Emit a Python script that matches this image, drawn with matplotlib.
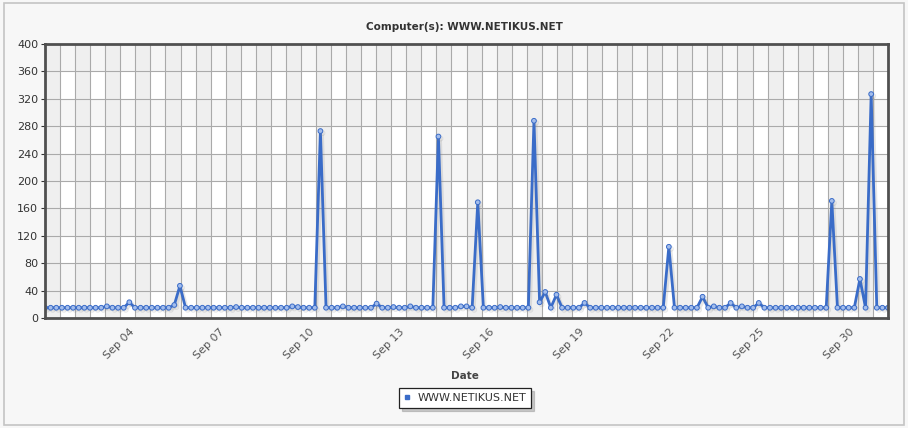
import matplotlib
matplotlib.use('Agg')
import matplotlib.pyplot as plt
import matplotlib.patheffects as pe
from matplotlib.patches import FancyBboxPatch
import numpy as np

# Samples per interval (index on x axis)
values = [
    15, 15, 15, 15, 15, 15, 15, 15, 15, 15, 15, 17, 15, 15, 15, 23, 15, 15, 15, 15,
    15, 15, 15, 19, 47, 15, 15, 15, 15, 15, 15, 15, 15, 15, 16, 15, 15, 15, 15, 15,
    15, 15, 15, 15, 17, 16, 15, 15, 15, 273, 15, 15, 15, 17, 15, 15, 15, 15, 15, 21,
    15, 15, 16, 15, 15, 17, 15, 15, 15, 15, 265, 15, 15, 15, 17, 17, 15, 169, 15, 15,
    15, 16, 15, 15, 15, 15, 15, 288, 23, 38, 15, 34, 15, 15, 15, 15, 22, 15, 15, 15,
    15, 15, 15, 15, 15, 15, 15, 15, 15, 15, 15, 104, 15, 15, 15, 15, 15, 31, 15, 17,
    15, 15, 22, 15, 17, 15, 15, 22, 15, 15, 15, 15, 15, 15, 15, 15, 15, 15, 15, 15,
    171, 15, 15, 15, 15, 57, 15, 327, 15, 15, 15,
]
tick_positions = [15, 31, 47, 63, 79, 95, 111, 127, 143]
tick_labels = ['Sep 04', 'Sep 07', 'Sep 10', 'Sep 13', 'Sep 16', 'Sep 19', 'Sep 22', 'Sep 25', 'Sep 30']
series_name = 'WWW.NETIKUS.NET'

LINE = '#3a6cc8'
MARK = '#a3bdec'

fig = plt.figure(figsize=(9.08, 4.28), dpi=100)
fig.patch.set_facecolor('#f7f7f7')

# light outer border around the whole chart
fig.patches.append(FancyBboxPatch((0.004, 0.008), 0.992, 0.984, boxstyle='square,pad=0',
                                  transform=fig.transFigure, facecolor='none',
                                  edgecolor='#c4c4c4', linewidth=1.2))

ax = fig.add_axes([0.0496, 0.257, 0.9284, 0.640])
ax.set_facecolor('white')

n = len(values)
x = np.arange(n)
ax.set_xlim(0, n - 1)
ax.set_ylim(0, 400)

# alternating row bands and column bands
for i, y0 in enumerate(range(0, 400, 40)):
    if i % 2 == 1:
        ax.axhspan(y0, y0 + 40, color='#f6f6f6', zorder=0, lw=0)
cols = np.linspace(0, n - 1, 57)
for i in range(len(cols) - 1):
    if i % 2 == 0:
        ax.axvspan(cols[i], cols[i + 1], color='#efefef', zorder=0.1, lw=0)
for c in cols[1:-1]:
    ax.axvline(c, color='#aaaaaa', lw=0.8, zorder=0.5)
for yv in range(40, 400, 40):
    ax.axhline(yv, color='#aaaaaa', lw=0.8, zorder=0.5)

ax.plot(x, values, color=LINE, lw=2, marker='o', markersize=3.4,
        markerfacecolor=MARK, markeredgecolor=LINE, markeredgewidth=0.7,
        zorder=3, label=series_name,
        path_effects=[pe.SimpleLineShadow(offset=(1.5, -1.5), shadow_color='#888888', alpha=0.2),
                      pe.Normal()])

ax.set_yticks(range(0, 401, 40))
ax.set_xticks(tick_positions)
ax.set_xticklabels(tick_labels, rotation=45, ha='right', rotation_mode='anchor')
ax.tick_params(axis='y', labelsize=8, colors='#333333', length=3, width=0.8, pad=2)
ax.tick_params(axis='x', labelsize=8, colors='#555555', length=0, pad=6)
for lbl in ax.get_xticklabels():
    lbl.set_color('#555555')

for side in ['left', 'right', 'top', 'bottom']:
    ax.spines[side].set_color('#505050')
    ax.spines[side].set_linewidth(2)
    ax.spines[side].set_zorder(5)

fig.text(0.512, 0.937, 'Computer(s): WWW.NETIKUS.NET', ha='center', va='center',
         fontsize=7.5, fontweight='bold', color='#333333')
fig.text(0.512, 0.122, 'Date', ha='center', va='center',
         fontsize=7.5, fontweight='bold', color='#444444')

leg = fig.legend(handles=[plt.Line2D([], [], ls='none', marker='s', markersize=3.5,
                                     color=LINE)],
                 labels=[series_name], loc='center', bbox_to_anchor=(0.512, 0.07),
                 fontsize=8, frameon=True, fancybox=False, shadow={'ox': 2, 'oy': -2, 'color': '#999999', 'alpha': 0.5},
                 handlelength=0.6, handletextpad=0.6, borderpad=0.45)
leg.get_frame().set_edgecolor('#222222')
leg.get_frame().set_linewidth(0.9)
for t in leg.get_texts():
    t.set_color('#333333')

fig.savefig('out.png', dpi=100, facecolor=fig.get_facecolor())
